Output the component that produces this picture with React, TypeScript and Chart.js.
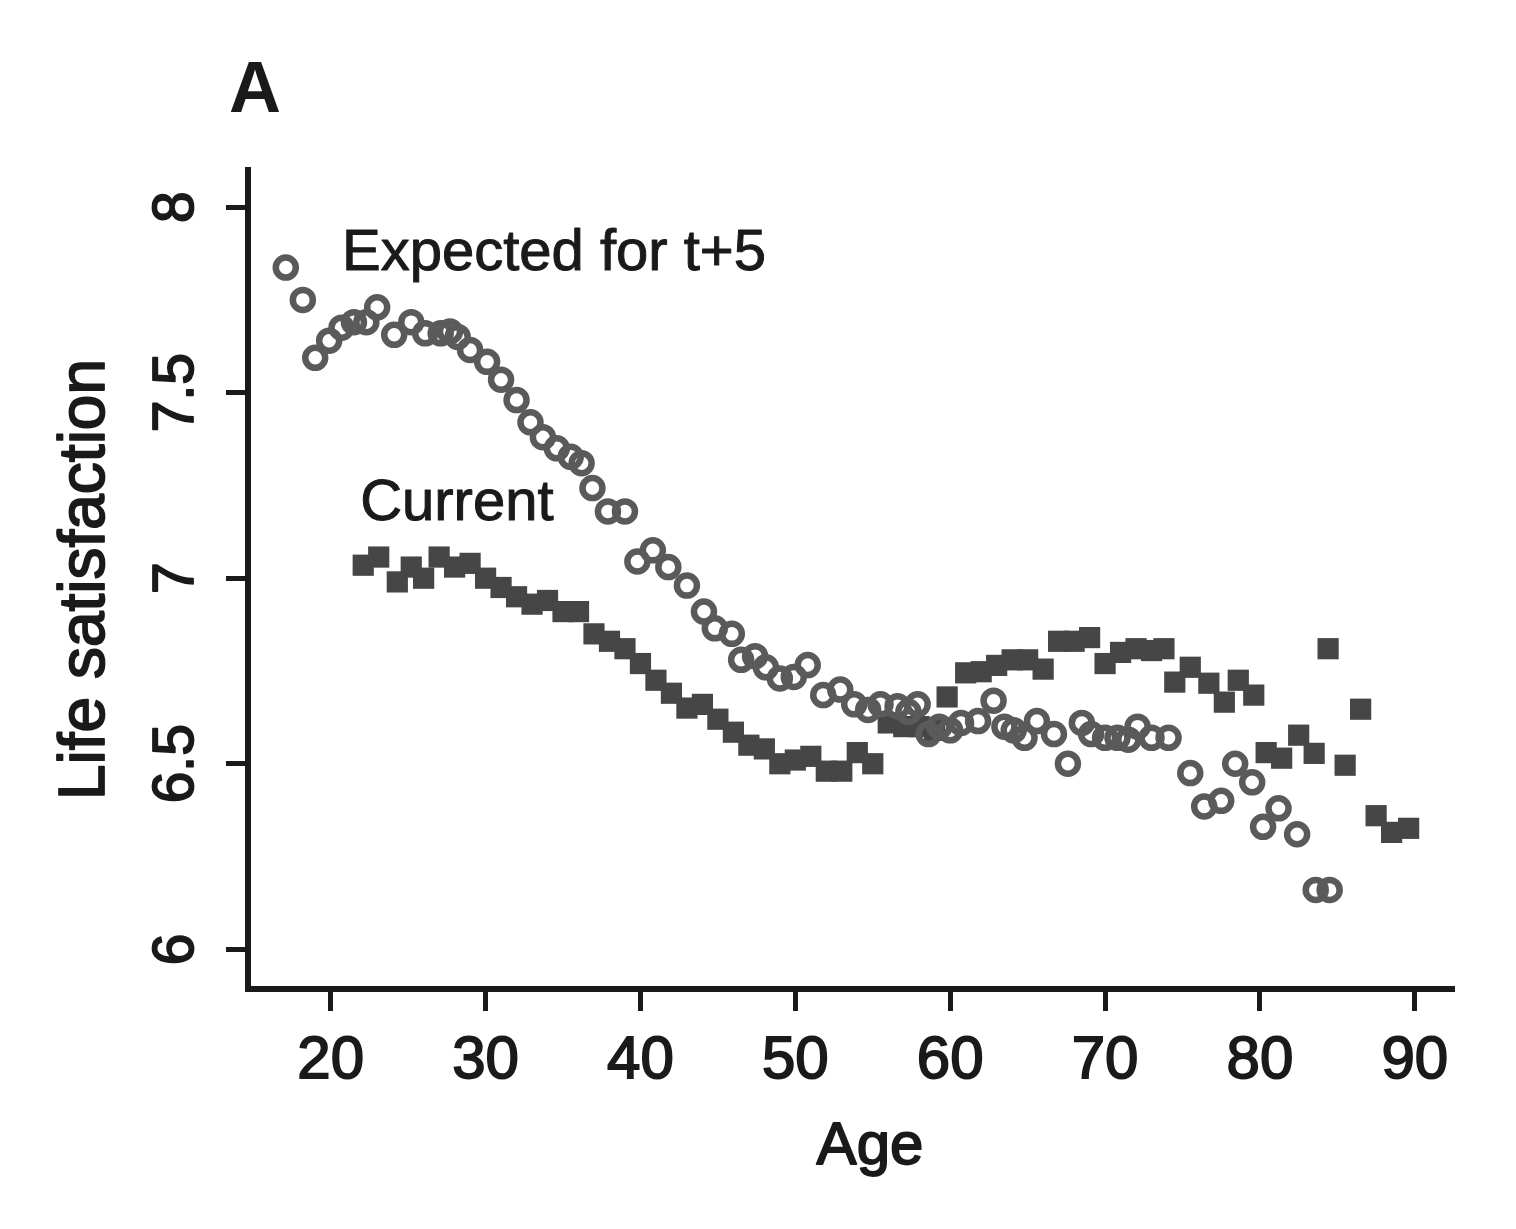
import React, { useEffect, useRef } from 'react';
import { Chart, registerables } from 'chart.js';

Chart.register(...registerables);

// ---- data ----
const currentAge = [22.1, 23.1, 24.3, 25.2, 26, 27, 28, 29, 30, 31, 32, 33, 34, 35, 36, 37, 38, 39, 40, 41, 42, 43, 44, 45, 46, 47, 48, 49, 50, 51, 52, 53, 54, 55, 56, 57, 58, 59, 59.8, 61, 62, 63, 64, 65, 66, 67, 68, 69, 70, 71, 72, 73, 73.8, 74.5, 75.5, 76.7, 77.7, 78.6, 79.6, 80.4, 81.4, 82.5, 83.5, 84.4, 85.5, 86.5, 87.5, 88.5, 89.6];
const currentLS = [7.035, 7.057, 6.99, 7.03, 7.0, 7.057, 7.03, 7.04, 7.0, 6.975, 6.95, 6.93, 6.94, 6.91, 6.91, 6.85, 6.83, 6.81, 6.77, 6.725, 6.69, 6.65, 6.66, 6.62, 6.585, 6.55, 6.54, 6.5, 6.51, 6.52, 6.48, 6.48, 6.53, 6.5, 6.61, 6.6, 6.6, 6.59, 6.68, 6.745, 6.748, 6.765, 6.78, 6.78, 6.755, 6.83, 6.83, 6.84, 6.77, 6.8, 6.81, 6.805, 6.81, 6.72, 6.76, 6.717, 6.666, 6.725, 6.685, 6.53, 6.515, 6.577, 6.528, 6.81, 6.496, 6.647, 6.36, 6.315, 6.326];

const expectedAge = [17.1, 18.2, 19.0, 19.9, 20.7, 21.5, 22.3, 23.0, 24.1, 25.2, 26.1, 27.1, 27.7, 28.2, 29.0, 30.1, 31.0, 32.0, 32.9, 33.7, 34.6, 35.5, 36.2, 36.9, 37.9, 39.0, 39.8, 40.8, 41.8, 43.0, 44.1, 44.8, 45.9, 46.5, 47.4, 48.1, 49.0, 49.9, 50.8, 51.8, 52.9, 53.8, 54.7, 55.5, 56.6, 57.3, 57.9, 58.6, 59.3, 60.0, 60.7, 61.8, 62.8, 63.5, 64.1, 64.8, 65.6, 66.7, 67.6, 68.5, 69.1, 70.0, 70.8, 71.5, 72.1, 73.0, 74.1, 75.5, 76.4, 77.5, 78.4, 79.5, 80.2, 81.2, 82.4, 83.6, 84.5];
const expectedLS = [7.837, 7.75, 7.594, 7.64, 7.675, 7.69, 7.69, 7.73, 7.656, 7.69, 7.66, 7.66, 7.665, 7.65, 7.615, 7.583, 7.535, 7.48, 7.42, 7.38, 7.35, 7.327, 7.31, 7.243, 7.18, 7.18, 7.045, 7.075, 7.03, 6.98, 6.91, 6.865, 6.85, 6.78, 6.79, 6.76, 6.73, 6.734, 6.766, 6.685, 6.7, 6.66, 6.645, 6.66, 6.655, 6.64, 6.66, 6.58, 6.6, 6.59, 6.61, 6.615, 6.67, 6.6, 6.59, 6.57, 6.615, 6.58, 6.5, 6.61, 6.58, 6.57, 6.57, 6.565, 6.6, 6.57, 6.57, 6.475, 6.385, 6.4, 6.5, 6.45, 6.33, 6.38, 6.31, 6.16, 6.16];

const xTicks = [20, 30, 40, 50, 60, 70, 80, 90];
const yTicks = [6, 6.5, 7, 7.5, 8];
const yTickLabels = ['6', '6.5', '7', '7.5', '8'];

const seriesLabels = ['Expected for t+5', 'Current'];
const labelAges = [20.73, 21.9];
const labelValues = [7.831, 7.157];

const panelLabel = 'A';
const xTitle = 'Age';
const yTitle = 'Life satisfaction';

const FONT = "'Liberation Sans', Arial, Helvetica, sans-serif";
const INK = '#1a1a1a';
const STROKE = 1.8;

function heavyText(ctx: any, t: string, x: number, y: number) {
  ctx.fillText(t, x, y);
  ctx.strokeText(t, x, y);
}

const textPlugin = {
  id: 'textPlugin',
  afterDraw(chart: any) {
    const ctx = chart.ctx;
    const xs = chart.scales.x;
    const ys = chart.scales.y;
    ctx.save();
    ctx.fillStyle = INK;
    ctx.strokeStyle = INK;
    ctx.lineWidth = STROKE;
    ctx.lineJoin = 'round';

    // y tick labels (rotated)
    ctx.font = `57px ${FONT}`;
    ctx.textAlign = 'center';
    ctx.textBaseline = 'alphabetic';
    yTicks.forEach((v, i) => {
      const py = ys.getPixelForValue(v);
      ctx.save();
      ctx.translate(193, py);
      ctx.rotate(-Math.PI / 2);
      heavyText(ctx, yTickLabels[i], 0, 0);
      ctx.restore();
    });

    // y title
    ctx.font = `64px ${FONT}`;
    ctx.save();
    ctx.translate(104, (chart.chartArea.top + chart.chartArea.bottom) / 2);
    ctx.rotate(-Math.PI / 2);
    heavyText(ctx, yTitle, 0, 0);
    ctx.restore();

    // x title
    ctx.font = `60px ${FONT}`;
    heavyText(ctx, xTitle, 870, 1164);

    // panel label
    ctx.font = `bold 72px ${FONT}`;
    ctx.textAlign = 'left';
    ctx.fillText(panelLabel, 229, 112);

    // series annotations
    ctx.font = `58px ${FONT}`;
    ctx.textAlign = 'left';
    ctx.lineWidth = 1.0;
    seriesLabels.forEach((t, i) => {
      heavyText(ctx, t, xs.getPixelForValue(labelAges[i]), ys.getPixelForValue(labelValues[i]));
    });
    ctx.restore();
  },
};

export default function App() {
  const ref = useRef<HTMLCanvasElement | null>(null);

  useEffect(() => {
    if (!ref.current) return;
    const chart = new Chart(ref.current, {
      type: 'scatter',
      data: {
        datasets: [
          {
            label: seriesLabels[0],
            data: expectedAge.map((a, i) => ({ x: a, y: expectedLS[i] })),
            pointStyle: 'circle',
            pointRadius: 10,
            pointBorderWidth: 6.5,
            pointBorderColor: '#5a5a5a',
            pointBackgroundColor: 'rgba(0,0,0,0)',
            order: 0,
          },
          {
            label: seriesLabels[1],
            data: currentAge.map((a, i) => ({ x: a, y: currentLS[i] })),
            pointStyle: 'rect',
            pointRadius: 15,
            pointBorderWidth: 0,
            pointBorderColor: '#464646',
            pointBackgroundColor: '#464646',
            order: 1,
          },
        ],
      },
      options: {
        animation: false,
        responsive: true,
        maintainAspectRatio: false,
        events: [],
        layout: { padding: { left: 0, right: 64, top: 170, bottom: 0 } },
        plugins: {
          legend: { display: false },
          tooltip: { enabled: false },
          title: { display: false },
        },
        scales: {
          x: {
            type: 'linear',
            min: 14.66,
            max: 92.4,
            afterBuildTicks: (scale: any) => {
              scale.ticks = xTicks.map((v) => ({ value: v }));
            },
            afterFit: (scale: any) => {
              scale.height = 240;
            },
            border: { display: true, width: 6, color: INK },
            grid: {
              display: true,
              drawOnChartArea: false,
              drawTicks: true,
              tickLength: 22,
              tickWidth: 5,
              tickColor: INK,
              lineWidth: 5,
              color: INK,
            },
            ticks: {
              color: INK,
              padding: 14,
              maxRotation: 0,
              minRotation: 0,
              textStrokeColor: INK,
              textStrokeWidth: STROKE,
              font: { family: FONT, size: 60 },
              callback: (v: any) => String(v),
            },
          },
          y: {
            type: 'linear',
            min: 5.893,
            max: 8.1,
            afterBuildTicks: (scale: any) => {
              scale.ticks = yTicks.map((v) => ({ value: v }));
            },
            afterFit: (scale: any) => {
              scale.width = 248;
            },
            border: { display: true, width: 6, color: INK },
            grid: {
              display: true,
              drawOnChartArea: false,
              drawTicks: true,
              tickLength: 22,
              tickWidth: 5,
              tickColor: INK,
              lineWidth: 5,
              color: INK,
            },
            ticks: {
              color: 'rgba(0,0,0,0)',
              font: { family: FONT, size: 20 },
            },
          },
        },
      },
      plugins: [textPlugin],
    });
    return () => chart.destroy();
  }, []);

  return (
    <div style={{ position: 'absolute', left: 0, top: 0, width: 1516, height: 1229, background: '#fff' }}>
      <canvas ref={ref} />
    </div>
  );
}
